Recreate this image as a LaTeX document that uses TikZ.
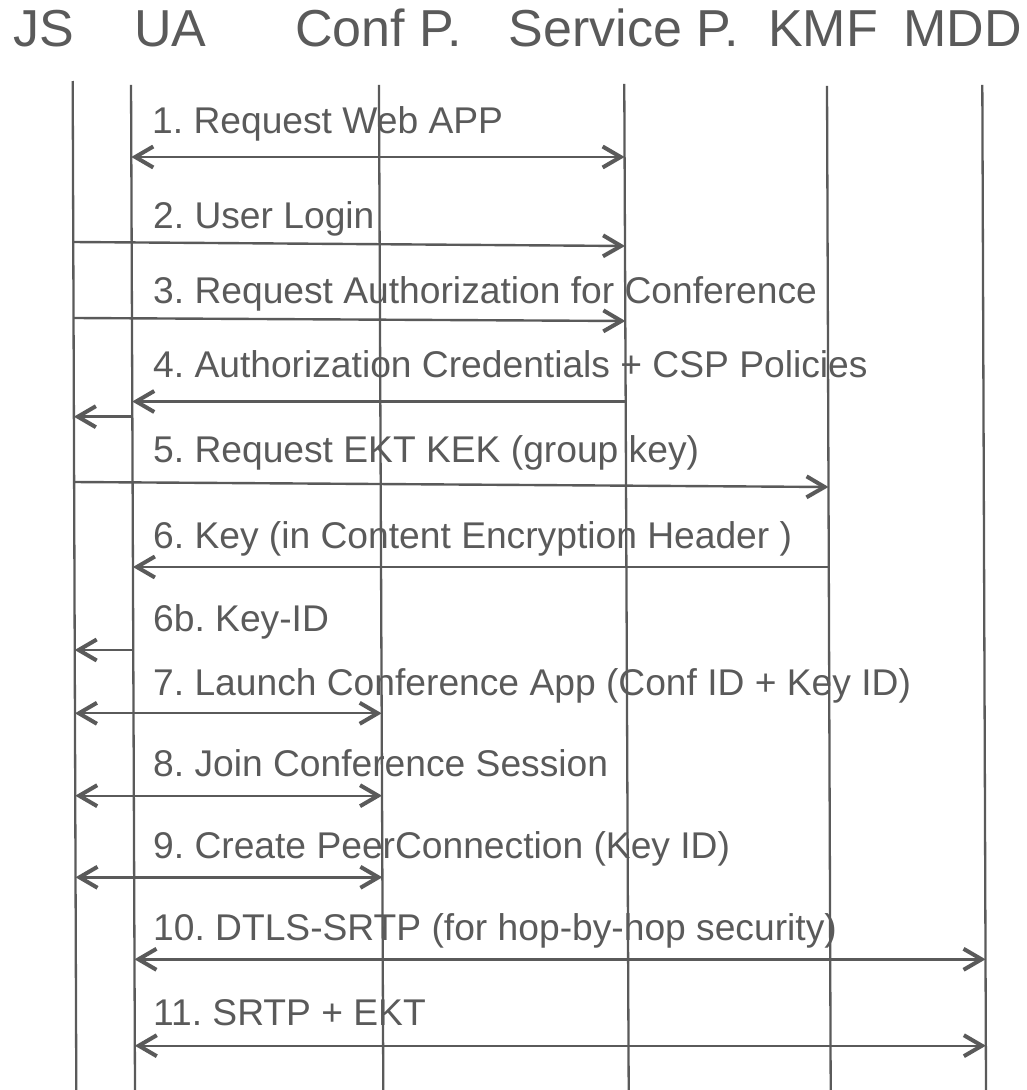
\documentclass[tikz,border=0pt]{standalone}
\usepackage{fontspec}
\setmainfont{Liberation Sans}
\usetikzlibrary{arrows.meta,calc}
\definecolor{ink}{RGB}{90,90,90}
\frenchspacing

\begin{document}
\begin{tikzpicture}[x=1pt,y=-1pt,
  head/.style={anchor=base west,inner sep=0pt,text=ink,font=\fontsize{52}{60}\selectfont},
  lbl/.style={anchor=base west,inner sep=0pt,text=ink,font=\fontsize{37.2}{44}\selectfont},
  life/.style={draw=ink,line width=2.3pt},
  msg/.style={draw=ink,line width=2.4pt},
  >={Straight Barb[length=18pt,width=21pt,line width=4pt 0]}]

\useasboundingbox (0,0) rectangle (1027,1090);

% participant headers
\node[head] (hJS)  at (13.6,46.7) {JS};
\node[head] (hUA)  at (134,46.7)  {UA};
\node[head] (hCP)  at (295,46.7)  {Conf P.};
\node[head] (hSP)  at (508.5,46.7){Service P.};
\node[head] (hKMF) at (768,46.7)  {KMF};
\node[head] (hMDD) at (903,46.7)  {MDD};

% lifeline guides (top edge y=0, bottom edge y=1090)
\coordinate (JSa)  at (72.4,0);  \coordinate (JSb)  at (76.3,1090);
\coordinate (UAa)  at (130.7,0); \coordinate (UAb)  at (135,1090);
\coordinate (CPa)  at (378.6,0); \coordinate (CPb)  at (383.3,1090);
\coordinate (SPa)  at (623.9,0); \coordinate (SPb)  at (628.7,1090);
\coordinate (KMFa) at (826.7,0); \coordinate (KMFb) at (830.7,1090);
\coordinate (MDDa) at (982,0);   \coordinate (MDDb) at (986,1090);

% lifelines
\coordinate (JSt)  at ($(JSa)!81/1090!(JSb)$);
\coordinate (UAt)  at ($(UAa)!85/1090!(UAb)$);
\coordinate (CPt)  at ($(CPa)!85/1090!(CPb)$);
\coordinate (SPt)  at ($(SPa)!84/1090!(SPb)$);
\coordinate (KMFt) at ($(KMFa)!86/1090!(KMFb)$);
\coordinate (MDDt) at ($(MDDa)!85/1090!(MDDb)$);
\draw[life] (JSt) -- (JSb);
\draw[life] (UAt) -- (UAb);
\draw[life] (CPt) -- (CPb);
\draw[life] (SPt) -- (SPb);
\draw[life] (KMFt) -- (KMFb);
\draw[life] (MDDt) -- (MDDb);

% message end points on the lifelines
\coordinate (m1s)  at ($(UAa)!157/1090!(UAb)$);   \coordinate (m1e)  at ($(SPa)!157/1090!(SPb)$);
\coordinate (m2s)  at ($(JSa)!242/1090!(JSb)$);   \coordinate (m2e)  at ($(SPa)!246/1090!(SPb)$);
\coordinate (m3s)  at ($(JSa)!318/1090!(JSb)$);   \coordinate (m3e)  at ($(SPa)!321/1090!(SPb)$);
\coordinate (m4s)  at ($(SPa)!401.5/1090!(SPb)$); \coordinate (m4e)  at ($(UAa)!401.5/1090!(UAb)$);
\coordinate (m4bs) at ($(UAa)!416.7/1090!(UAb)$); \coordinate (m4be) at ($(JSa)!416.7/1090!(JSb)$);
\coordinate (m5s)  at ($(JSa)!482/1090!(JSb)$);   \coordinate (m5e)  at ($(KMFa)!487/1090!(KMFb)$);
\coordinate (m6s)  at ($(KMFa)!567/1090!(KMFb)$); \coordinate (m6e)  at ($(UAa)!567/1090!(UAb)$);
\coordinate (m6bs) at ($(UAa)!650/1090!(UAb)$);   \coordinate (m6be) at ($(JSa)!650/1090!(JSb)$);
\coordinate (m7s)  at ($(JSa)!713.3/1090!(JSb)$); \coordinate (m7e)  at ($(CPa)!713.3/1090!(CPb)$);
\coordinate (m8s)  at ($(JSa)!795.7/1090!(JSb)$); \coordinate (m8e)  at ($(CPa)!795.7/1090!(CPb)$);
\coordinate (m9s)  at ($(JSa)!877.3/1090!(JSb)$); \coordinate (m9e)  at ($(CPa)!877.3/1090!(CPb)$);
\coordinate (m10s) at ($(UAa)!959.3/1090!(UAb)$); \coordinate (m10e) at ($(MDDa)!959.3/1090!(MDDb)$);
\coordinate (m11s) at ($(UAa)!1045.7/1090!(UAb)$);\coordinate (m11e) at ($(MDDa)!1045.7/1090!(MDDb)$);

% message labels
\node[lbl] (l1)  at (152,133.3)  {1. Request Web APP};
\node[lbl] (l2)  at (153,228.5)  {2. User Login};
\node[lbl] (l3)  at (153,303.5)  {3. Request Authorization for Conference};
\node[lbl] (l4)  at (153,377.7)  {4. Authorization Credentials + CSP Policies};
\node[lbl] (l5)  at (153,462)    {5. Request EKT KEK (group key)};
\node[lbl] (l6)  at (153,548)    {6. Key (in Content Encryption Header )};
\node[lbl] (l6b) at (153,631.7)  {6b. Key-ID};
\node[lbl] (l7)  at (153,695)    {7. Launch Conference App (Conf ID + Key ID)};
\node[lbl] (l8)  at (153,776.7)  {8. Join Conference Session};
\node[lbl] (l9)  at (153,858.3)  {9. Create PeerConnection (Key ID)};
\node[lbl] (l10) at (153,940.7)  {10. DTLS-SRTP (for hop-by-hop security)};
\node[lbl] (l11) at (153,1025.5) {11. SRTP + EKT};

% messages
\draw[msg,<->] (m1s) -- (m1e);
\draw[msg,->]  (m2s) -- (m2e);
\draw[msg,->]  (m3s) -- (m3e);
\draw[msg,->]  (m4s) -- (m4e);
\draw[msg,->]  (m4bs) -- (m4be);
\draw[msg,->]  (m5s) -- (m5e);
\draw[msg,->]  (m6s) -- (m6e);
\draw[msg,->]  (m6bs) -- (m6be);
\draw[msg,<->] (m7s) -- (m7e);
\draw[msg,<->] (m8s) -- (m8e);
\draw[msg,<->] (m9s) -- (m9e);
\draw[msg,<->] (m10s) -- (m10e);
\draw[msg,<->] (m11s) -- (m11e);
\end{tikzpicture}
\end{document}
